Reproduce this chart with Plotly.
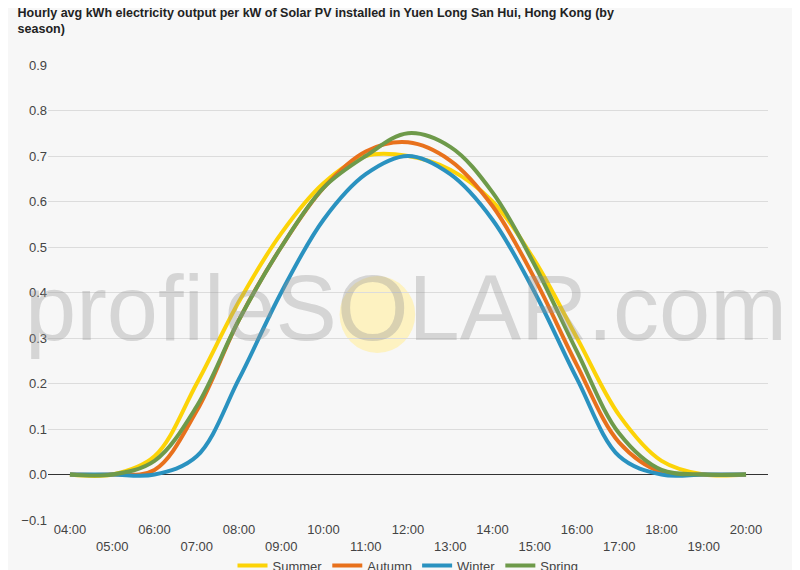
import plotly.graph_objects as go

hours = [f"{h:02d}:00" for h in range(4, 21)]
summer = [0, 0, 0.04, 0.20, 0.38, 0.53, 0.64, 0.70, 0.70, 0.67, 0.60, 0.47, 0.30, 0.13, 0.03, 0.0, 0]
autumn = [0, 0, 0.01, 0.14, 0.34, 0.50, 0.63, 0.71, 0.73, 0.69, 0.59, 0.43, 0.24, 0.07, 0.005, 0, 0]
winter = [0, 0, 0, 0.04, 0.21, 0.40, 0.56, 0.66, 0.70, 0.66, 0.56, 0.40, 0.21, 0.04, 0, 0, 0]
spring = [0, 0, 0.03, 0.15, 0.34, 0.50, 0.63, 0.70, 0.75, 0.72, 0.62, 0.46, 0.27, 0.09, 0.01, 0, 0]
series = [("Summer", summer, "#fcd307"), ("Autumn", autumn, "#e8711c"),
          ("Winter", winter, "#2a92c0"), ("Spring", spring, "#6e9a4a")]

x = list(range(len(hours)))
fig = go.Figure()
for name, vals, col in series:
    fig.add_trace(go.Scatter(x=x, y=vals, name=name, mode="lines",
                             line=dict(color=col, width=4, shape="spline", smoothing=1.0)))

ticktext = [h if i % 2 == 0 else "<br>" + h for i, h in enumerate(hours)]
fig.add_shape(type="circle", xref="paper", yref="paper", x0=0.405, x1=0.51, y0=0.367, y1=0.536,
              fillcolor="rgba(255,240,170,0.7)", line=dict(width=0), layer="below")
fig.add_annotation(text="profileSOLAR.com", xref="paper", yref="paper", x=0.497, y=0.466,
                   showarrow=False, font=dict(size=92, color="rgba(150,150,150,0.35)", family="Arial"))
fig.update_layout(
    width=800, height=570, plot_bgcolor="#f7f7f7", paper_bgcolor="#f7f7f7",
    margin=dict(l=40, r=40, t=57, b=58, autoexpand=False),
    title=dict(text="<b>Hourly avg kWh electricity output per kW of Solar PV installed in Yuen Long San Hui, Hong Kong (by<br>season)</b>",
               x=0.012, xanchor="left", y=0.985, yanchor="top", automargin=False,
               font=dict(size=12.5, color="#222", family="Arial")),
    font=dict(family="Arial", color="#444", size=13),
    legend=dict(orientation="h", x=0.5, xanchor="center", y=-0.10, yanchor="middle", font=dict(size=13)),
    xaxis=dict(tickmode="array", tickvals=x, ticktext=ticktext, range=[-0.52, 16.52],
               showgrid=False, zeroline=False, ticks="", tickfont=dict(size=13), automargin=False),
    yaxis=dict(range=[-0.1, 0.9], dtick=0.1, tickformat=".1f", gridcolor="#dcdcdc", automargin=False,
               zeroline=True, zerolinecolor="#333", zerolinewidth=1, tickfont=dict(size=13)),
)
fig.write_html("out.html")
